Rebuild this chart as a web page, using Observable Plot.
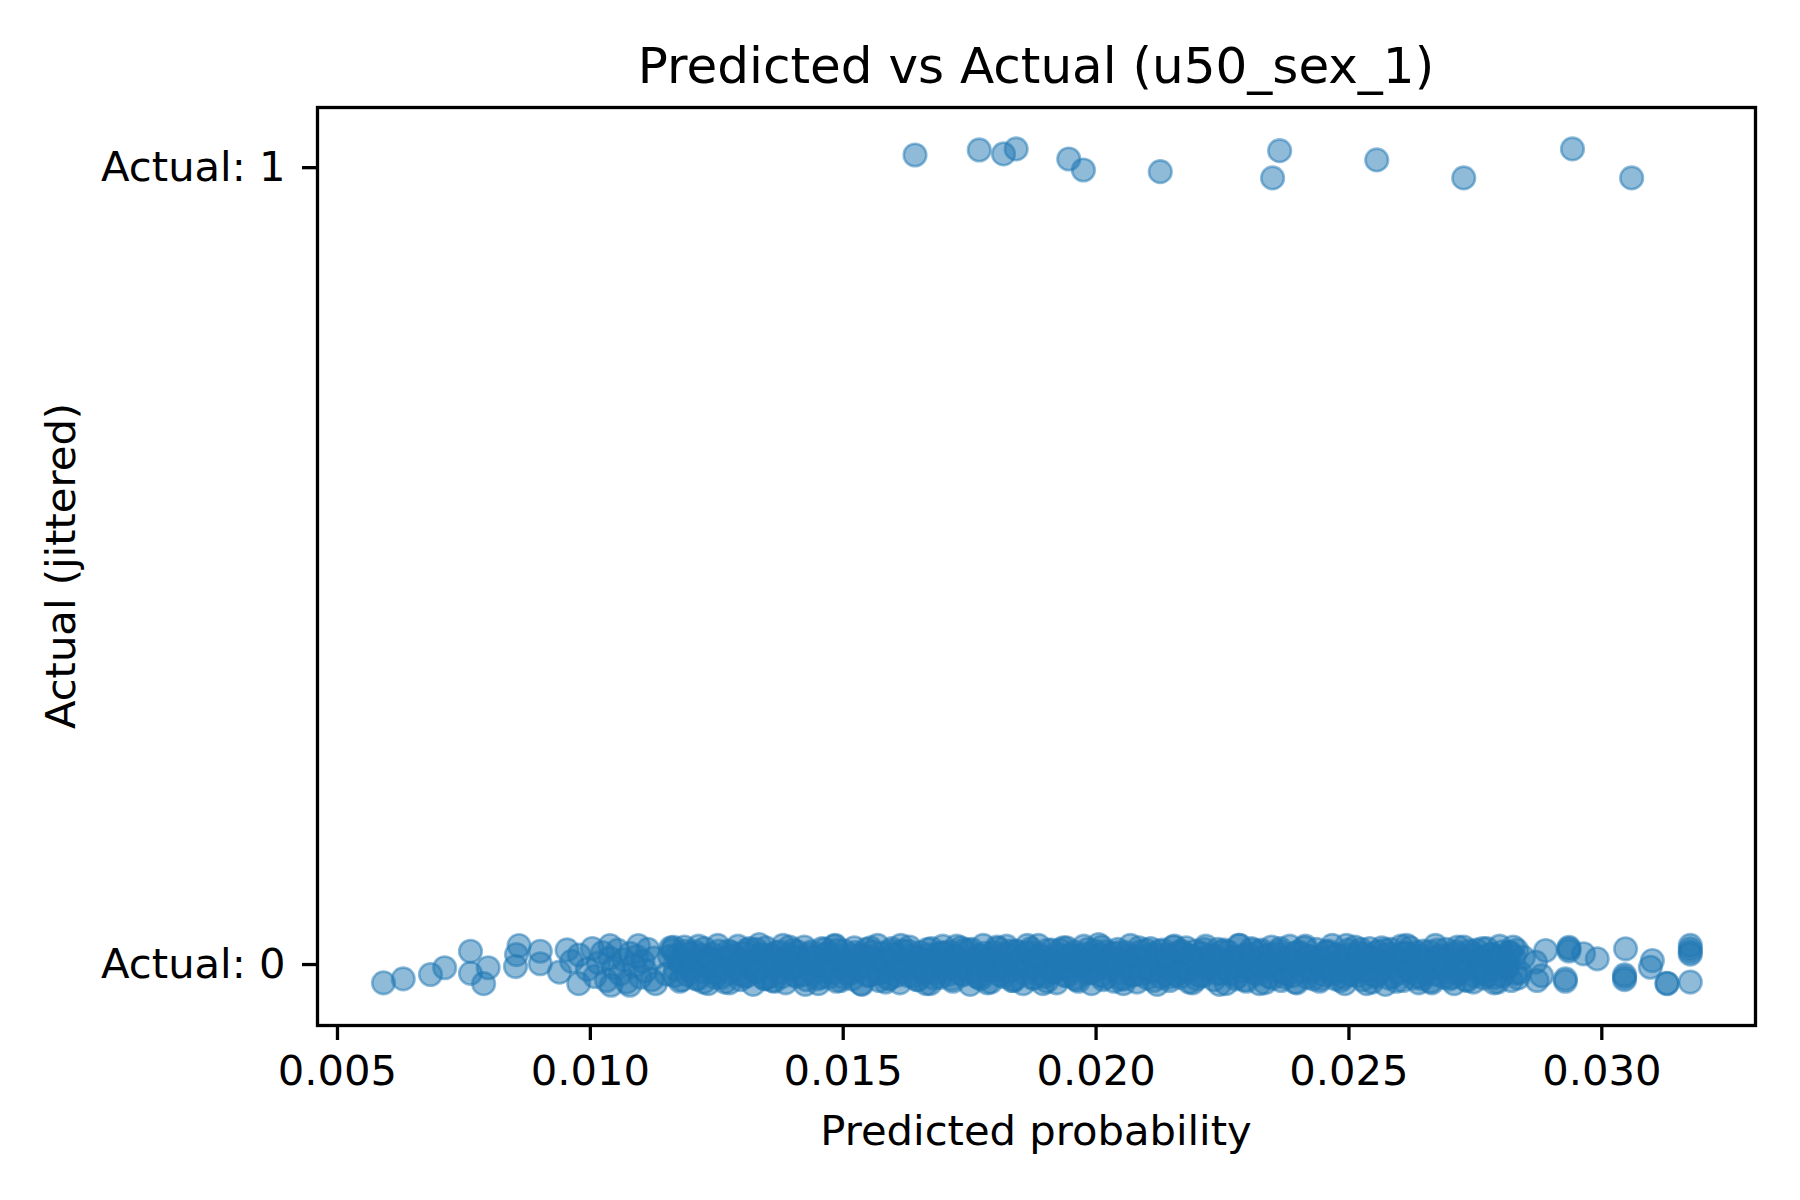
<!DOCTYPE html>
<html><head><meta charset="utf-8">
<script src="https://cdn.jsdelivr.net/npm/d3@7"></script>
<script src="https://cdn.jsdelivr.net/npm/@observablehq/plot@0.6"></script>
<style>
body{margin:0;background:#fff;}
#wrap{position:relative;width:1800px;height:1200px;font-family:"DejaVu Sans",sans-serif;background:#fff;}
.t{position:absolute;white-space:nowrap;color:#000;line-height:1;font-family:"DejaVu Sans",sans-serif;}
</style></head><body><div id="wrap"></div>
<script>
const titleText = "Predicted vs Actual (u50_sex_1)";
const xLabel = "Predicted probability";
const yLabel = "Actual (jittered)";
const xTicks = [0.005, 0.010, 0.015, 0.020, 0.025, 0.030];
const yTicks = [0, 1];
const yTickLabels = ["Actual: 0", "Actual: 1"];

// Actual = 1 points
const oneX = [0.01642, 0.01769, 0.01817, 0.01842, 0.01946, 0.01975, 0.02127, 0.02363, 0.02349, 0.02555, 0.02727, 0.02942, 0.03059];
const oneJ = [0.0159, 0.0222, 0.0172, 0.0235, 0.0109, -0.0029, -0.0050, 0.0213, -0.0129, 0.0097, -0.0129, 0.0235, -0.0129];

// Actual = 0 points: sparse left tail
const zeroLeftX = [0.00591, 0.00630, 0.00684, 0.00712, 0.00763, 0.00763, 0.00798, 0.00789, 0.00859, 0.00854, 0.00852, 0.00901, 0.00901, 0.00939, 0.00954, 0.00977, 0.01039, 0.01041, 0.01095, 0.01129, 0.01078, 0.01165,
  0.00963, 0.00978, 0.00994, 0.01004, 0.01009, 0.01016, 0.01024, 0.01032, 0.01039, 0.01046, 0.01054, 0.01059, 0.01066, 0.01072, 0.01079, 0.01086, 0.01092, 0.01099, 0.01104, 0.01109, 0.01114, 0.01122, 0.01126];
const zeroLeftJ = [-0.023, -0.018, -0.0125, -0.004, 0.0167, -0.011, -0.004, -0.024, 0.0238, 0.0125, -0.0025, 0.0167, 0.001, -0.0096, 0.0184, -0.024, 0.0238, -0.026, 0.0238, -0.024, -0.026, 0.0217,
  0.004, 0.012, -0.006, 0.020, -0.015, 0.002, 0.015, -0.020, 0.008, -0.004, 0.018, -0.012, 0.006, -0.022, 0.014, -0.002, 0.010, -0.016, 0.004, -0.008, 0.019, -0.019, 0.008];

// Actual = 0 points: dense middle (first group)
const zeroMidX = [
0.01162,0.01168,0.01171,0.01177,0.01183,0.01186,0.01192,0.01197,0.01203,0.01207,
0.01212,0.01218,0.01221,0.01226,0.01233,0.01238,0.01241,0.01247,0.01252,0.01258,
0.01262,0.01266,0.01273,0.01277,0.01281,0.01288,0.01292,0.01297,0.01303,0.01306,
0.01311,0.01318,0.01322,0.01327,0.01331,0.01336,0.01343,0.01347,0.01352,0.01356,
0.01361,0.01367,0.01372,0.01378,0.01381,0.01386,0.01393,0.01397,0.01401,0.01408,
0.01412,0.01416,0.01423,0.01427,0.01432,0.01437,0.01441,0.01447,0.01451,0.01458,
0.01462,0.01466,0.01471,0.01477,0.01483,0.01487,0.01491,0.01498,0.01502,0.01507,
0.01511,0.01518,0.01522,0.01526,0.01532,0.01537,0.01543,0.01546,0.01551,0.01557,
0.01562,0.01568,0.01571,0.01576,0.01583,0.01587,0.01592,0.01596,0.01601,0.01607,
0.01612,0.01617,0.01622,0.01628,0.01631,0.01636,0.01642,0.01648,0.01652,0.01656,
0.01661,0.01667,0.01672,0.01677,0.01681,0.01687,0.01692,0.01697,0.01703,0.01706,
0.01712,0.01717,0.01721,0.01726,0.01733,0.01737,0.01742,0.01748,0.01751,0.01757,
0.01762,0.01766,0.01772,0.01777,0.01781,0.01788,0.01792,0.01797,0.01802,0.01806,
0.01811,0.01817,0.01823,0.01826,0.01832,0.01837,0.01841,0.01847,0.01852,0.01856,
0.01862,0.01867,0.01871,0.01878,0.01882,0.01886,0.01891,0.01897,0.01903,0.01907,
0.01912,0.01916,0.01922,0.01927,0.01931,0.01938,0.01942,0.01946,0.01952,0.01957,
0.01961,0.01967,0.01972,0.01976,0.01983,0.01987,0.01991,0.01998,0.02002,0.02007,
0.02011,0.02018,0.02021,0.02027,0.02032,0.02036,0.02043,0.02047,0.02052,0.02056,
0.02061,0.02068,0.02072,0.02077,0.02081,0.02087,0.02093,0.02096,0.02101,0.02108,
0.02112,0.02116,0.02121,0.02127,0.02132,0.02138,0.02141,0.02146,0.02153,0.02157,
0.02162,0.02166,0.02171,0.02178,0.02182,0.02187,0.02191,0.02197,0.02202,0.02206,
0.02212,0.02217,0.02222,0.02226,0.02233,0.02237,0.02241,0.02248,0.02252,0.02257,
0.02261,0.02267,0.02272,0.02276,0.02282,0.02288,0.02291,0.02297,0.02301,0.02307,
0.02312,0.02317,0.02323,0.02327,0.02331,0.02336,0.02342,0.02347,0.02352,0.02358,
0.02362,0.02366,0.02372,0.02376,0.02383,0.02387,0.02392,0.02397,0.02401,0.02408,
0.02412,0.02417,0.02421,0.02428,0.02432,0.02436,0.02442,0.02447,0.02451,0.02456,
0.02462,0.02467,0.02473,0.02477,0.02481,0.02487,0.02492,0.02498,0.02502,0.02506,
0.02512,0.02518,0.02522,0.02527,0.02531,0.02537,0.02541,0.02546,0.02553,0.02557,
0.02561,0.02566,0.02572,0.02578,0.02582,0.02587,0.02591,0.02597,0.02603,0.02607,
0.02611,0.02617,0.02621,0.02627,0.02632,0.02638,0.02642,0.02647,0.02652,0.02656,
0.02662,0.02667,0.02671,0.02677,0.02683,0.02687,0.02692,0.02696,0.02701,0.02708,
0.02712,0.02716,0.02722,0.02727,0.02731,0.02737,0.02743,0.02746,0.02752,0.02757,
0.02762,0.02767,0.02773,0.02777,0.02781,0.02787,0.02792,0.02798,0.02803,0.02808,
0.02812,0.02816,0.02821,0.02826,0.02832,0.02838];
const zeroMidJ = [
0.018,-0.006,0.011,-0.021,0.003,0.022,-0.013,0.007,-0.002,0.016,
-0.018,0.009,-0.009,0.020,-0.024,0.001,0.013,-0.016,0.024,-0.004,
0.006,-0.022,0.017,-0.011,0.010,-0.001,0.023,-0.019,0.004,0.014,
-0.014,0.002,-0.025,0.019,-0.007,0.011,-0.017,0.021,-0.003,0.008,
-0.020,0.015,-0.010,0.005,0.024,-0.023,0.012,-0.005,0.018,-0.015,
0.009,-0.001,0.022,-0.019,0.003,0.016,-0.012,0.007,-0.024,0.020,
-0.008,0.013,-0.016,0.001,0.023,-0.021,0.010,-0.003,0.017,-0.011,
0.005,-0.018,0.021,-0.006,0.012,-0.025,0.002,0.019,-0.013,0.008,
-0.002,0.024,-0.020,0.014,-0.009,0.006,-0.017,0.020,-0.004,0.011,
-0.023,0.017,0.000,-0.014,0.022,-0.007,0.009,-0.019,0.015,0.003,
-0.011,0.019,-0.024,0.007,-0.002,0.013,-0.016,0.023,-0.008,0.004,
0.016,-0.021,0.010,-0.005,0.021,-0.013,0.002,0.018,-0.025,0.008,
-0.010,0.012,-0.018,0.024,-0.003,0.006,-0.022,0.015,-0.007,0.020,
0.001,-0.015,0.023,-0.009,0.011,-0.020,0.017,-0.001,0.008,-0.024,
0.014,-0.006,0.020,-0.017,0.004,0.024,-0.012,0.009,-0.021,0.002,
0.018,-0.004,-0.023,0.012,0.000,-0.014,0.021,-0.008,0.006,0.016,
-0.019,0.010,-0.002,0.023,-0.011,0.005,-0.024,0.017,-0.006,0.012,
0.022,-0.016,0.007,-0.001,0.014,-0.021,0.019,-0.010,0.003,-0.018,
0.011,0.024,-0.013,0.006,-0.022,0.016,-0.004,0.009,-0.017,0.020,
-0.007,0.013,-0.025,0.001,0.018,-0.012,0.008,-0.020,0.022,-0.003,
0.015,-0.016,0.004,0.021,-0.009,0.010,-0.023,0.017,-0.001,0.007,
-0.014,0.023,-0.006,0.012,-0.019,0.002,0.019,-0.011,0.006,-0.024,
0.016,-0.002,0.009,-0.018,0.024,-0.008,0.003,-0.021,0.013,0.020,
-0.010,0.005,-0.024,0.018,-0.004,0.011,-0.015,0.022,-0.007,0.001,
0.017,-0.020,0.008,-0.012,0.023,-0.001,0.014,-0.023,0.004,-0.009,
0.021,-0.016,0.010,-0.005,0.002,0.019,-0.021,0.007,-0.013,0.015,
-0.003,0.024,-0.018,0.012,-0.008,0.004,-0.024,0.018,-0.011,0.009,
0.022,-0.014,0.000,-0.019,0.013,-0.006,0.020,-0.022,0.006,0.016,
-0.010,0.011,-0.025,0.003,0.019,-0.015,0.008,-0.002,0.023,-0.020,
0.014,-0.007,0.021,-0.017,0.005,-0.023,0.010,0.017,-0.011,0.001,
-0.021,0.008,0.024,-0.004,0.012,-0.016,0.019,-0.009,0.003,-0.024,
0.016,-0.012,0.006,0.022,-0.019,0.000,0.011,-0.022,0.018,-0.005,
0.009,-0.017,0.020,-0.008,0.013,-0.023,0.004,0.023,-0.014,0.007,
-0.002,0.015,-0.020,0.010,0.018,-0.010];

// Actual = 0 points: dense middle (second group)
const zeroMid2X = [
0.01150,0.01159,0.01174,0.01181,0.01195,0.01201,0.01214,0.01224,0.01235,0.01244,
0.01254,0.01264,0.01275,0.01284,0.01294,0.01304,0.01315,0.01324,0.01334,0.01345,
0.01354,0.01364,0.01374,0.01385,0.01394,0.01404,0.01414,0.01425,0.01434,0.01444,
0.01455,0.01464,0.01474,0.01484,0.01495,0.01504,0.01514,0.01524,0.01535,0.01544,
0.01554,0.01565,0.01574,0.01584,0.01594,0.01605,0.01614,0.01624,0.01634,0.01645,
0.01654,0.01664,0.01675,0.01684,0.01694,0.01704,0.01715,0.01724,0.01734,0.01745,
0.01754,0.01764,0.01774,0.01785,0.01794,0.01804,0.01814,0.01825,0.01834,0.01844,
0.01855,0.01864,0.01874,0.01884,0.01895,0.01904,0.01914,0.01924,0.01935,0.01944,
0.01954,0.01965,0.01974,0.01984,0.01994,0.02005,0.02014,0.02024,0.02034,0.02045,
0.02054,0.02064,0.02074,0.02085,0.02094,0.02104,0.02114,0.02125,0.02134,0.02144,
0.02155,0.02164,0.02174,0.02184,0.02195,0.02204,0.02214,0.02224,0.02235,0.02244,
0.02254,0.02265,0.02274,0.02284,0.02294,0.02305,0.02314,0.02324,0.02334,0.02345,
0.02354,0.02364,0.02374,0.02385,0.02394,0.02404,0.02414,0.02425,0.02434,0.02444,
0.02455,0.02464,0.02474,0.02484,0.02495,0.02504,0.02514,0.02524,0.02535,0.02544,
0.02554,0.02565,0.02574,0.02584,0.02594,0.02605,0.02614,0.02624,0.02634,0.02645,
0.02654,0.02664,0.02675,0.02684,0.02694,0.02704,0.02715,0.02724,0.02734,0.02745,
0.02754,0.02764,0.02774,0.02785,0.02794,0.02804,0.02814,0.02825,0.02834,0.02845];
const zeroMid2J = [
-0.012,0.021,0.004,-0.019,0.014,-0.003,0.023,-0.022,0.008,-0.010,
0.017,-0.005,-0.023,0.012,0.001,-0.015,0.020,-0.008,0.025,-0.018,
0.006,-0.021,0.016,-0.002,0.022,-0.013,0.009,-0.025,0.013,0.000,
-0.016,0.019,-0.006,0.024,-0.020,0.005,-0.011,0.015,-0.024,0.010,
0.021,-0.009,0.003,-0.022,0.017,-0.014,0.024,-0.001,0.011,-0.019,
0.007,-0.024,0.020,-0.010,0.014,-0.004,-0.018,0.023,-0.012,0.002,
0.019,-0.015,0.010,-0.023,0.005,0.022,-0.007,0.013,-0.020,0.016,
-0.003,0.024,-0.017,0.008,-0.024,0.018,-0.010,0.003,0.021,-0.014,
0.012,-0.021,0.004,0.019,-0.008,0.025,-0.019,0.009,-0.002,0.015,
-0.024,0.006,-0.013,0.021,-0.005,0.011,-0.020,0.017,0.000,-0.016,
0.023,-0.009,0.014,-0.022,0.007,-0.014,0.019,-0.003,0.010,-0.025,
0.018,-0.011,0.002,0.024,-0.019,0.008,-0.006,0.016,-0.023,0.012,
-0.001,0.020,-0.016,0.006,-0.022,0.014,0.023,-0.009,0.003,-0.018,
0.016,-0.006,0.011,-0.020,0.024,-0.013,0.001,0.019,-0.024,0.008,
-0.015,0.021,-0.004,0.013,-0.021,0.006,0.024,-0.010,0.015,-0.018,
0.004,-0.023,0.018,-0.007,0.010,-0.016,0.022,0.001,-0.020,0.013,
-0.009,0.020,-0.014,0.005,-0.022,0.016,-0.004,0.022,-0.017,0.009];

// Actual = 0 points: dense middle (third group)
const zeroMid3X = [
0.01157,0.01166,0.01179,0.01189,0.01198,0.01209,0.01219,0.01228,0.01239,0.01249,
0.01259,0.01269,0.01279,0.01289,0.01299,0.01309,0.01319,0.01329,0.01339,0.01349,
0.01358,0.01369,0.01379,0.01389,0.01398,0.01409,0.01419,0.01429,0.01438,0.01449,
0.01459,0.01469,0.01479,0.01489,0.01499,0.01509,0.01519,0.01529,0.01539,0.01549,
0.01559,0.01569,0.01579,0.01589,0.01598,0.01609,0.01619,0.01629,0.01639,0.01649,
0.01659,0.01669,0.01679,0.01689,0.01699,0.01709,0.01719,0.01729,0.01739,0.01749,
0.01759,0.01769,0.01779,0.01789,0.01799,0.01809,0.01819,0.01829,0.01839,0.01849,
0.01859,0.01869,0.01879,0.01889,0.01899,0.01909,0.01919,0.01929,0.01939,0.01949,
0.01959,0.01969,0.01979,0.01989,0.01999,0.02009,0.02019,0.02029,0.02039,0.02049,
0.02059,0.02069,0.02079,0.02089,0.02099,0.02109,0.02119,0.02129,0.02139,0.02149,
0.02159,0.02169,0.02179,0.02189,0.02199,0.02209,0.02219,0.02229,0.02239,0.02249,
0.02259,0.02269,0.02279,0.02289,0.02299,0.02309,0.02319,0.02329,0.02339,0.02349,
0.02359,0.02369,0.02379,0.02389,0.02399,0.02409,0.02419,0.02429,0.02439,0.02449,
0.02459,0.02469,0.02479,0.02489,0.02499,0.02509,0.02519,0.02529,0.02539,0.02549,
0.02559,0.02569,0.02579,0.02589,0.02599,0.02609,0.02619,0.02629,0.02639,0.02649,
0.02659,0.02669,0.02679,0.02689,0.02699,0.02709,0.02719,0.02729,0.02739,0.02749,
0.02759,0.02769,0.02779,0.02789,0.02799,0.02809,0.02819,0.02829];
const zeroMid3J = [
0.010,-0.014,0.003,0.017,-0.007,-0.018,0.012,-0.001,0.006,-0.011,
-0.016,0.008,0.015,-0.004,-0.012,0.018,0.002,-0.009,0.013,-0.017,
0.011,0.000,-0.015,0.007,-0.006,0.016,-0.013,0.004,0.009,-0.018,
-0.002,0.014,-0.010,0.018,-0.016,0.005,0.011,-0.007,0.001,-0.014,
0.016,-0.011,0.006,-0.018,0.013,-0.003,-0.009,0.017,-0.015,0.008,
-0.005,0.012,-0.017,0.002,0.015,-0.012,0.009,-0.001,0.018,-0.008,
0.004,-0.016,0.014,-0.006,0.010,-0.013,0.001,0.017,-0.018,0.007,
-0.011,0.016,-0.002,0.012,-0.015,0.005,-0.008,0.018,-0.004,0.011,
-0.017,0.003,0.013,-0.010,0.008,-0.014,0.016,-0.006,0.002,-0.018,
0.015,-0.003,0.010,-0.012,0.018,-0.009,0.006,-0.016,0.012,0.000,
-0.013,0.017,-0.005,0.009,-0.018,0.014,-0.001,0.007,-0.011,0.016,
-0.007,0.003,-0.015,0.011,-0.004,0.018,-0.012,0.008,0.001,-0.017,
0.013,-0.009,0.005,-0.014,0.016,-0.002,0.010,-0.018,0.006,-0.006,
0.017,-0.011,0.002,-0.016,0.012,-0.003,0.015,-0.008,0.009,-0.013,
0.004,0.018,-0.017,0.007,-0.010,0.014,-0.005,0.011,-0.015,0.001,
0.016,-0.012,0.008,-0.002,-0.018,0.013,-0.007,0.003,0.017,-0.014,
0.006,-0.009,0.012,-0.016,0.010,-0.004,0.015,-0.011];

// Actual = 0 points: sparse right tail
const zeroRightX = [0.02869, 0.02889, 0.02872, 0.02881, 0.02935, 0.02935, 0.02935, 0.02928, 0.02928, 0.02964, 0.02991, 0.03047, 0.03045, 0.03045, 0.03045, 0.03100, 0.03096, 0.03129, 0.03129, 0.03175, 0.03175, 0.03175, 0.03175, 0.03175];
const zeroRightJ = [0.003, 0.0176, -0.020, -0.014, 0.0197, 0.0215, 0.017, -0.018, -0.021, 0.0134, 0.0072, 0.0197, -0.016, -0.019, -0.013, 0.005, -0.0034, -0.024, -0.0235, 0.0197, 0.024, 0.013, 0.016, -0.022];

const points = [];
oneX.forEach((x, i) => points.push({x, y: 1 + oneJ[i]}));
[[zeroLeftX, zeroLeftJ], [zeroMidX, zeroMidJ], [zeroMid2X, zeroMid2J], [zeroMid3X, zeroMid3J], [zeroRightX, zeroRightJ]].forEach(([xs, js]) =>
  xs.forEach((x, i) => points.push({x, y: 0 + js[i]})));

const blue = "#1f77b4";
const chart = Plot.plot({
  width: 1800, height: 1200,
  marginLeft: 317, marginRight: 45, marginTop: 107, marginBottom: 175,
  style: {fontFamily: "DejaVu Sans, sans-serif", fontSize: "41.7px", color: "#000", background: "#fff", overflow: "visible"},
  x: {domain: [0.004605, 0.033039]},
  y: {domain: [-0.0765, 1.0755]},
  marks: [
    Plot.dot(points, {x: "x", y: "y", r: 11.3, fill: blue, fillOpacity: 0.5, stroke: blue, strokeOpacity: 0.5, strokeWidth: 2.6}),
    Plot.frame({stroke: "#000", strokeWidth: 3.3}),
    Plot.axisX({ticks: xTicks, tickFormat: d3.format(".3f"), tickSize: 15, tickPadding: 15, strokeWidth: 3.3, label: null, fill: "#000"}),
    Plot.axisY({ticks: yTicks, tickFormat: d => yTickLabels[d], tickSize: 15, tickPadding: 17, strokeWidth: 3.3, label: null, fill: "#000"})
  ]
});
const wrap = document.getElementById("wrap");
wrap.appendChild(chart);
chart.style.position = "absolute"; chart.style.left = "0px"; chart.style.top = "0px";

function addText(txt, css) {
  const d = document.createElement("div");
  d.className = "t"; d.textContent = txt;
  Object.assign(d.style, css);
  wrap.appendChild(d);
}
addText(titleText, {fontSize: "50px", left: "1036px", top: "41px", transform: "translateX(-50%)"});
addText(xLabel, {fontSize: "41.7px", left: "1036px", top: "1110px", transform: "translateX(-50%)"});
addText(yLabel, {fontSize: "41.7px", left: "61px", top: "566px", transform: "translate(-50%,-50%) rotate(-90deg)"});
</script></body></html>
